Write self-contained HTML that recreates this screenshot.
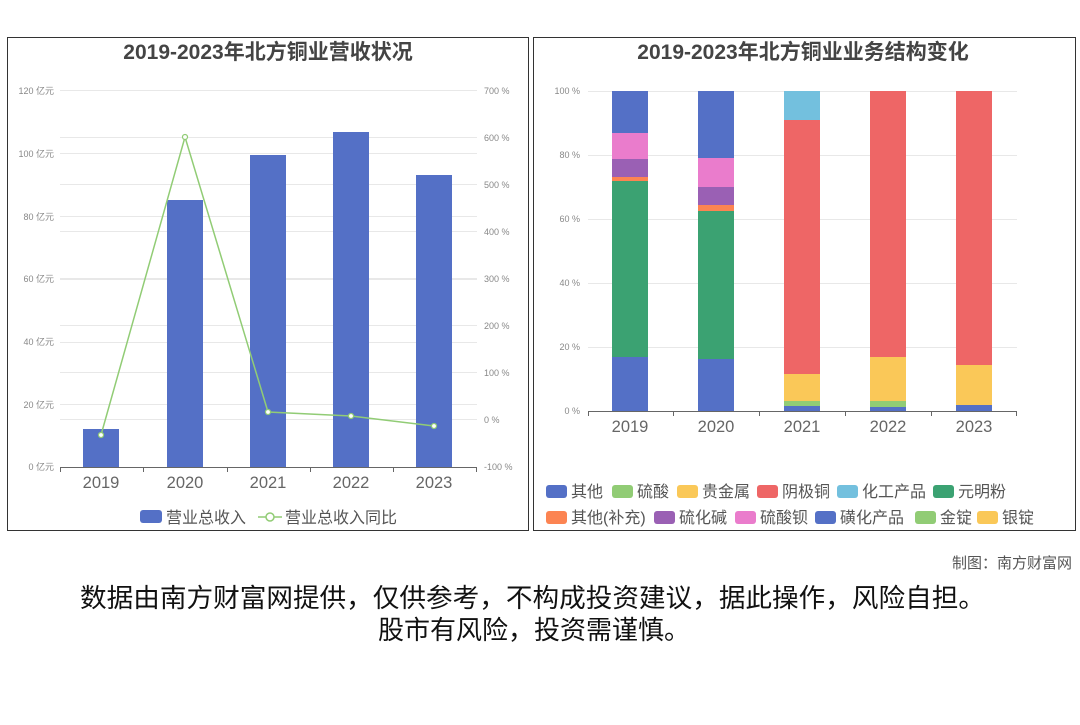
<!DOCTYPE html>
<html><head><meta charset="utf-8"><style>
body{margin:0;background:#fff;width:1080px;height:720px;overflow:hidden;font-family:"Liberation Sans","Noto Sans CJK SC",sans-serif;}
svg text{font-family:"Liberation Sans","Noto Sans CJK SC",sans-serif;}
</style></head><body>
<svg width="1080" height="720" viewBox="0 0 1080 720" xmlns="http://www.w3.org/2000/svg">
<rect x="7.5" y="37.5" width="521" height="493" fill="none" stroke="#333" stroke-width="1"/>
<rect x="533.5" y="37.5" width="542" height="493" fill="none" stroke="#333" stroke-width="1"/>
<text x="268" y="59" text-anchor="middle" font-size="21" font-weight="bold" fill="#444">2019-2023年北方铜业营收状况</text>
<text x="803" y="59" text-anchor="middle" font-size="21" font-weight="bold" fill="#444">2019-2023年北方铜业业务结构变化</text>
<g stroke="#e8e8e8" stroke-width="1">
<line x1="60" x2="477" y1="90.5" y2="90.5"/><line x1="60" x2="477" y1="153.5" y2="153.5"/><line x1="60" x2="477" y1="216.5" y2="216.5"/><line x1="60" x2="477" y1="279.5" y2="279.5"/><line x1="60" x2="477" y1="342.5" y2="342.5"/><line x1="60" x2="477" y1="404.5" y2="404.5"/>
<line x1="60" x2="477" y1="137.5" y2="137.5"/><line x1="60" x2="477" y1="184.5" y2="184.5"/><line x1="60" x2="477" y1="231.5" y2="231.5"/><line x1="60" x2="477" y1="278.5" y2="278.5"/><line x1="60" x2="477" y1="325.5" y2="325.5"/><line x1="60" x2="477" y1="372.5" y2="372.5"/><line x1="60" x2="477" y1="419.5" y2="419.5"/>
</g>
<g font-size="9" fill="#888" text-anchor="end">
<text x="54" y="94">120 亿元</text><text x="54" y="157">100 亿元</text><text x="54" y="220">80 亿元</text><text x="54" y="282">60 亿元</text><text x="54" y="345">40 亿元</text><text x="54" y="408">20 亿元</text><text x="54" y="470">0 亿元</text>
</g>
<g font-size="9" fill="#888">
<text x="484" y="94">700 %</text><text x="484" y="141">600 %</text><text x="484" y="188">500 %</text><text x="484" y="235">400 %</text><text x="484" y="282">300 %</text><text x="484" y="329">200 %</text><text x="484" y="376">100 %</text><text x="484" y="423">0 %</text><text x="484" y="470">-100 %</text>
</g>
<g fill="#5470c6">
<rect x="83" y="429" width="36" height="38"/><rect x="167" y="200" width="36" height="267"/><rect x="250" y="155" width="36" height="312"/><rect x="333" y="132" width="36" height="335"/><rect x="416" y="175" width="36" height="292"/>
</g>
<line x1="60" x2="477" y1="467.5" y2="467.5" stroke="#666"/>
<g stroke="#666"><line x1="60.5" x2="60.5" y1="467" y2="472"/><line x1="143.5" x2="143.5" y1="467" y2="472"/><line x1="227.5" x2="227.5" y1="467" y2="472"/><line x1="310.5" x2="310.5" y1="467" y2="472"/><line x1="393.5" x2="393.5" y1="467" y2="472"/><line x1="476.5" x2="476.5" y1="467" y2="472"/></g>
<g font-size="16.5" fill="#666" text-anchor="middle"><text x="101" y="488">2019</text><text x="185" y="488">2020</text><text x="268" y="488">2021</text><text x="351" y="488">2022</text><text x="434" y="488">2023</text></g>
<polyline points="101,435 185,137 268,412 351,416 434,426" fill="none" stroke="#91cc75" stroke-width="1.5"/>
<g fill="#fff" stroke="#91cc75" stroke-width="1.2"><circle cx="101" cy="435" r="2.5"/><circle cx="185" cy="137" r="2.5"/><circle cx="268" cy="412" r="2.5"/><circle cx="351" cy="416" r="2.5"/><circle cx="434" cy="426" r="2.5"/></g>
<rect x="140" y="510" width="22" height="13" rx="3" fill="#5470c6"/>
<text x="166" y="523" font-size="16" fill="#555">营业总收入</text>
<line x1="258" x2="282" y1="517" y2="517" stroke="#91cc75" stroke-width="1.5"/><circle cx="270" cy="517" r="4" fill="#fff" stroke="#91cc75" stroke-width="1.5"/>
<text x="285" y="523" font-size="16" fill="#555">营业总收入同比</text>
<g stroke="#e8e8e8"><line x1="588" x2="1017" y1="91.5" y2="91.5"/><line x1="588" x2="1017" y1="155.5" y2="155.5"/><line x1="588" x2="1017" y1="219.5" y2="219.5"/><line x1="588" x2="1017" y1="283.5" y2="283.5"/><line x1="588" x2="1017" y1="347.5" y2="347.5"/></g>
<g font-size="9" fill="#888" text-anchor="end"><text x="580" y="94">100 %</text><text x="580" y="158">80 %</text><text x="580" y="222">60 %</text><text x="580" y="286">40 %</text><text x="580" y="350">20 %</text><text x="580" y="414">0 %</text></g>
<rect x="612" y="91" width="36" height="43" fill="#5470c6"/><rect x="612" y="133" width="36" height="26" fill="#ea7ccc"/><rect x="612" y="159" width="36" height="18" fill="#9a60b4"/><rect x="612" y="177" width="36" height="4" fill="#fc8452"/><rect x="612" y="181" width="36" height="176" fill="#3ba272"/><rect x="612" y="357" width="36" height="54" fill="#5470c6"/>
<rect x="698" y="91" width="36" height="68" fill="#5470c6"/><rect x="698" y="158" width="36" height="29" fill="#ea7ccc"/><rect x="698" y="187" width="36" height="18" fill="#9a60b4"/><rect x="698" y="205" width="36" height="6" fill="#fc8452"/><rect x="698" y="211" width="36" height="148" fill="#3ba272"/><rect x="698" y="359" width="36" height="52" fill="#5470c6"/>
<rect x="784" y="91" width="36" height="29" fill="#73c0de"/><rect x="784" y="120" width="36" height="254" fill="#ee6666"/><rect x="784" y="374" width="36" height="27" fill="#fac858"/><rect x="784" y="401" width="36" height="5" fill="#91cc75"/><rect x="784" y="406" width="36" height="5" fill="#5470c6"/>
<rect x="870" y="91" width="36" height="266" fill="#ee6666"/><rect x="870" y="357" width="36" height="44" fill="#fac858"/><rect x="870" y="401" width="36" height="6" fill="#91cc75"/><rect x="870" y="407" width="36" height="4" fill="#5470c6"/>
<rect x="956" y="91" width="36" height="274" fill="#ee6666"/><rect x="956" y="365" width="36" height="40" fill="#fac858"/><rect x="956" y="405" width="36" height="6" fill="#5470c6"/>
<line x1="588" x2="1017" y1="411.5" y2="411.5" stroke="#666"/>
<g stroke="#666"><line x1="588.5" x2="588.5" y1="411" y2="416"/><line x1="673.5" x2="673.5" y1="411" y2="416"/><line x1="759.5" x2="759.5" y1="411" y2="416"/><line x1="845.5" x2="845.5" y1="411" y2="416"/><line x1="931.5" x2="931.5" y1="411" y2="416"/><line x1="1016.5" x2="1016.5" y1="411" y2="416"/></g>
<g font-size="16.5" fill="#666" text-anchor="middle"><text x="630" y="432">2019</text><text x="716" y="432">2020</text><text x="802" y="432">2021</text><text x="888" y="432">2022</text><text x="974" y="432">2023</text></g>
<g font-size="16" fill="#555">
<rect x="546" y="485" width="21" height="13" rx="3" fill="#5470c6"/><text x="571" y="497">其他</text>
<rect x="612" y="485" width="21" height="13" rx="3" fill="#91cc75"/><text x="637" y="497">硫酸</text>
<rect x="677" y="485" width="21" height="13" rx="3" fill="#fac858"/><text x="702" y="497">贵金属</text>
<rect x="757" y="485" width="21" height="13" rx="3" fill="#ee6666"/><text x="782" y="497">阴极铜</text>
<rect x="837" y="485" width="21" height="13" rx="3" fill="#73c0de"/><text x="862" y="497">化工产品</text>
<rect x="933" y="485" width="21" height="13" rx="3" fill="#3ba272"/><text x="958" y="497">元明粉</text>
<rect x="546" y="511" width="21" height="13" rx="3" fill="#fc8452"/><text x="571" y="523">其他(补充)</text>
<rect x="654" y="511" width="21" height="13" rx="3" fill="#9a60b4"/><text x="679" y="523">硫化碱</text>
<rect x="735" y="511" width="21" height="13" rx="3" fill="#ea7ccc"/><text x="760" y="523">硫酸钡</text>
<rect x="815" y="511" width="21" height="13" rx="3" fill="#5470c6"/><text x="840" y="523">磺化产品</text>
<rect x="915" y="511" width="21" height="13" rx="3" fill="#91cc75"/><text x="940" y="523">金锭</text>
<rect x="977" y="511" width="21" height="13" rx="3" fill="#fac858"/><text x="1002" y="523">银锭</text>
</g>
<text x="1072" y="568" text-anchor="end" font-size="15" fill="#555">制图：南方财富网</text>
<text x="80" y="607" font-size="26" fill="#111" textLength="905" lengthAdjust="spacingAndGlyphs">数据由南方财富网提供，仅供参考，不构成投资建议，据此操作，风险自担。</text>
<text x="378" y="639" font-size="26" fill="#111" textLength="312" lengthAdjust="spacingAndGlyphs">股市有风险，投资需谨慎。</text>
</svg>
</body></html>
